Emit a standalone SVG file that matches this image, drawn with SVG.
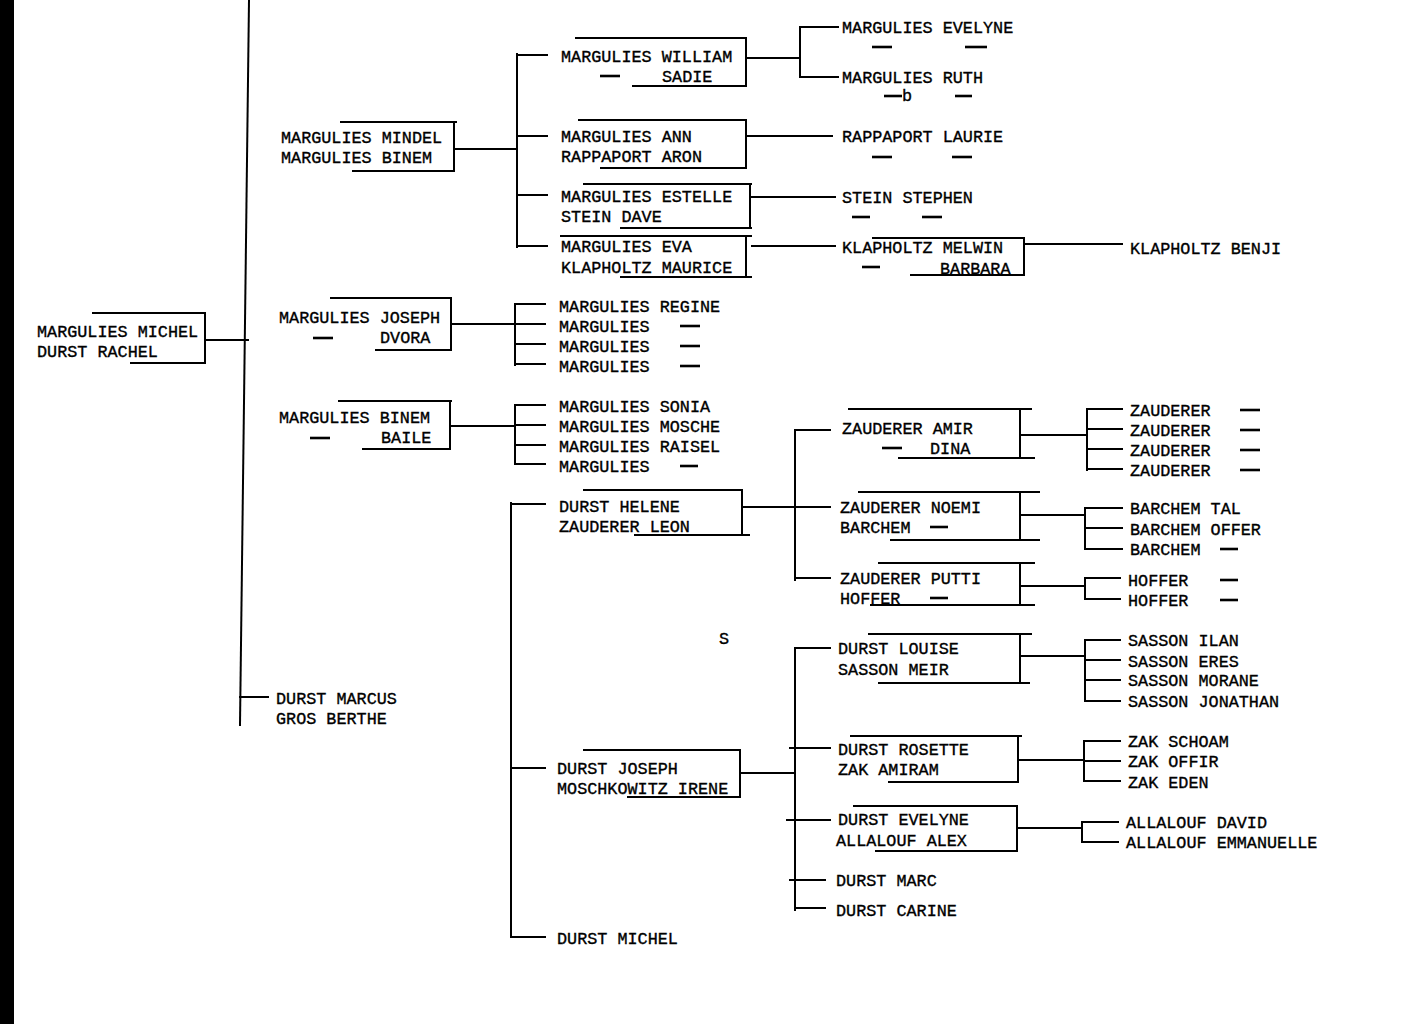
<svg xmlns="http://www.w3.org/2000/svg" width="1404" height="1024" viewBox="0 0 1404 1024">
<style>
text{font-family:"Liberation Mono","Courier New",monospace;font-size:16.8px;fill:#000;stroke:#000;stroke-width:0.35px}
.ln{fill:none;stroke:#000;stroke-width:2;stroke-linecap:square}
.box{fill:none;stroke:#000;stroke-width:2}
.dash{stroke:#000;stroke-width:2.6}
</style>
<rect x="0" y="0" width="14" height="1024" fill="#000"/>
<g id="connectors" class="ln">
<path d="M249,0 L240,725"/>
<path d="M205,340 H248"/>
<path d="M240,697 H268"/>
<path d="M454,149 H517 M517,54 V247 M517,55 H547 M517,136 H547 M517,195 H547 M517,246 H547"/>
<path d="M746,58 H800 M800,27 V77 M800,27 H838 M800,77 H838"/>
<path d="M746,136 H832"/>
<path d="M752,197 H835"/>
<path d="M752,246 H835"/>
<path d="M1026,244 H1122"/>
<path d="M451,324 H515 M515,304 V365 M515,304 H545 M515,324 H545 M515,344 H545 M515,364 H545"/>
<path d="M450,426 H515 M515,405 V464 M515,405 H545 M515,425 H545 M515,445 H545 M515,464 H545"/>
<path d="M511,503 V937 M511,504 H545 M511,768 H545 M511,937 H545"/>
<path d="M742,507 H795 M795,430 V580 M795,430 H830 M795,507 H830 M795,578 H830"/>
<path d="M1020,435 H1087 M1087,409 V470 M1087,409 H1122 M1087,429 H1122 M1087,449 H1122 M1087,469 H1122"/>
<path d="M1020,515 H1085 M1085,508 V549 M1085,508 H1122 M1085,528 H1122 M1085,549 H1122"/>
<path d="M1020,586 H1085 M1085,578 V599 M1085,578 H1120 M1085,599 H1120"/>
<path d="M740,773 H795 M795,648 V910 M795,648 H830 M790,748 H830 M787,820 H830 M790,880 H825 M795,908 H825"/>
<path d="M1020,656 H1085 M1085,640 V701 M1085,640 H1120 M1085,660 H1120 M1085,680 H1120 M1085,701 H1120"/>
<path d="M1018,760 H1084 M1084,741 V781 M1084,741 H1120 M1084,761 H1120 M1084,781 H1120"/>
<path d="M1017,828 H1082 M1082,822 V842 M1082,822 H1118 M1082,842 H1118"/>
</g>
<g id="n-michel-rachel"><path class="box" d="M92,313 H205 V363 H130"/><text x="37" y="337">MARGULIES MICHEL</text><text x="37" y="357">DURST RACHEL</text></g>
<g id="n-mindel"><path class="box" d="M340,122 H457 M454,122 V171 H352"/><text x="281" y="143">MARGULIES MINDEL</text><text x="281" y="163">MARGULIES BINEM</text></g>
<g id="n-william"><path class="box" d="M575,38 H746 V86 H632"/><text x="561" y="62">MARGULIES WILLIAM</text><line class="dash" x1="600" y1="76" x2="620" y2="76"/><text x="662" y="82">SADIE</text></g>
<g id="n-evelyne"><text x="842" y="33">MARGULIES EVELYNE</text><line class="dash" x1="872" y1="47" x2="892" y2="47"/><line class="dash" x1="965" y1="47" x2="987" y2="47"/></g>
<g id="n-ruth"><text x="842" y="83">MARGULIES RUTH</text><line class="dash" x1="884" y1="96" x2="902" y2="96"/><text x="902" y="101">b</text><line class="dash" x1="955" y1="96" x2="972" y2="96"/></g>
<g id="n-ann"><path class="box" d="M578,120 H746 V168 H600"/><text x="561" y="142">MARGULIES ANN</text><text x="561" y="162">RAPPAPORT ARON</text></g>
<g id="n-laurie"><text x="842" y="142">RAPPAPORT LAURIE</text><line class="dash" x1="872" y1="157" x2="892" y2="157"/><line class="dash" x1="952" y1="157" x2="972" y2="157"/></g>
<g id="n-estelle"><path class="box" d="M583,184 H752 M750,184 V228 M620,228 H752"/><text x="561" y="202">MARGULIES ESTELLE</text><text x="561" y="222">STEIN DAVE</text></g>
<g id="n-stephen"><text x="842" y="203">STEIN STEPHEN</text><line class="dash" x1="852" y1="217" x2="870" y2="217"/><line class="dash" x1="922" y1="217" x2="942" y2="217"/></g>
<g id="n-eva"><path class="box" d="M560,236 H752 M746,236 V277 M620,277 H752"/><text x="561" y="252">MARGULIES EVA</text><text x="561" y="273">KLAPHOLTZ MAURICE</text></g>
<g id="n-melwin"><path class="box" d="M872,238 H1024 V275 H910"/><text x="842" y="253">KLAPHOLTZ MELWIN</text><line class="dash" x1="862" y1="267" x2="880" y2="267"/><text x="940" y="274">BARBARA</text></g>
<g id="n-benji"><text x="1130" y="254">KLAPHOLTZ BENJI</text></g>
<g id="n-joseph-m"><path class="box" d="M330,298 H452 M451,298 V350 H375"/><text x="279" y="323">MARGULIES JOSEPH</text><line class="dash" x1="313" y1="338" x2="333" y2="338"/><text x="380" y="343">DVORA</text></g>
<g id="n-regine"><text x="559" y="312">MARGULIES REGINE</text></g>
<g id="n-marg2"><text x="559" y="332">MARGULIES</text><line class="dash" x1="680" y1="326" x2="700" y2="326"/></g>
<g id="n-marg3"><text x="559" y="352">MARGULIES</text><line class="dash" x1="680" y1="346" x2="700" y2="346"/></g>
<g id="n-marg4"><text x="559" y="372">MARGULIES</text><line class="dash" x1="680" y1="366" x2="700" y2="366"/></g>
<g id="n-binem"><path class="box" d="M338,401 H452 M450,401 V449 H362"/><text x="279" y="423">MARGULIES BINEM</text><line class="dash" x1="310" y1="438" x2="330" y2="438"/><text x="381" y="443">BAILE</text></g>
<g id="n-sonia"><text x="559" y="412">MARGULIES SONIA</text></g>
<g id="n-mosche"><text x="559" y="432">MARGULIES MOSCHE</text></g>
<g id="n-raisel"><text x="559" y="452">MARGULIES RAISEL</text></g>
<g id="n-marg5"><text x="559" y="472">MARGULIES</text><line class="dash" x1="680" y1="466" x2="698" y2="466"/></g>
<g id="n-marcus"><text x="276" y="704">DURST MARCUS</text><text x="276" y="724">GROS BERTHE</text></g>
<g id="n-helene"><path class="box" d="M583,490 H742 V535 M634,535 H750"/><text x="559" y="512">DURST HELENE</text><text x="559" y="532">ZAUDERER LEON</text></g>
<g id="n-amir"><path class="box" d="M848,409 H1032 M1020,409 V458 M898,458 H1035"/><text x="842" y="434">ZAUDERER AMIR</text><line class="dash" x1="882" y1="448" x2="902" y2="448"/><text x="930" y="454">DINA</text></g>
<g id="n-z1"><text x="1130" y="416">ZAUDERER</text><line class="dash" x1="1240" y1="410" x2="1260" y2="410"/></g>
<g id="n-z2"><text x="1130" y="436">ZAUDERER</text><line class="dash" x1="1240" y1="430" x2="1260" y2="430"/></g>
<g id="n-z3"><text x="1130" y="456">ZAUDERER</text><line class="dash" x1="1240" y1="450" x2="1260" y2="450"/></g>
<g id="n-z4"><text x="1130" y="476">ZAUDERER</text><line class="dash" x1="1240" y1="470" x2="1260" y2="470"/></g>
<g id="n-noemi"><path class="box" d="M858,492 H1040 M1020,492 V540 M890,540 H1040"/><text x="840" y="513">ZAUDERER NOEMI</text><text x="840" y="533">BARCHEM</text><line class="dash" x1="930" y1="527" x2="948" y2="527"/></g>
<g id="n-tal"><text x="1130" y="514">BARCHEM TAL</text></g>
<g id="n-offer"><text x="1130" y="535">BARCHEM OFFER</text></g>
<g id="n-barchem3"><text x="1130" y="555">BARCHEM</text><line class="dash" x1="1220" y1="549" x2="1238" y2="549"/></g>
<g id="n-putti"><path class="box" d="M878,563 H1035 M1020,563 V605 M870,605 H1035"/><text x="840" y="584">ZAUDERER PUTTI</text><text x="840" y="604">HOFFER</text><line class="dash" x1="930" y1="598" x2="948" y2="598"/></g>
<g id="n-h1"><text x="1128" y="586">HOFFER</text><line class="dash" x1="1220" y1="580" x2="1238" y2="580"/></g>
<g id="n-h2"><text x="1128" y="606">HOFFER</text><line class="dash" x1="1220" y1="600" x2="1238" y2="600"/></g>
<text x="719" y="644">S</text>
<g id="n-joseph-d"><path class="box" d="M583,750 H740 V797 H627"/><text x="557" y="774">DURST JOSEPH</text><text x="557" y="794">MOSCHKOWITZ IRENE</text></g>
<g id="n-louise"><path class="box" d="M868,634 H1032 M1020,634 V683 M878,683 H1030"/><text x="838" y="654">DURST LOUISE</text><text x="838" y="675">SASSON MEIR</text></g>
<g id="n-ilan"><text x="1128" y="646">SASSON ILAN</text></g>
<g id="n-eres"><text x="1128" y="667">SASSON ERES</text></g>
<g id="n-morane"><text x="1128" y="686">SASSON MORANE</text></g>
<g id="n-jonathan"><text x="1128" y="707">SASSON JONATHAN</text></g>
<g id="n-rosette"><path class="box" d="M850,736 H1022 M1018,736 V782 H888"/><text x="838" y="755">DURST ROSETTE</text><text x="838" y="775">ZAK AMIRAM</text></g>
<g id="n-schoam"><text x="1128" y="747">ZAK SCHOAM</text></g>
<g id="n-offir"><text x="1128" y="767">ZAK OFFIR</text></g>
<g id="n-eden"><text x="1128" y="788">ZAK EDEN</text></g>
<g id="n-evelyne-d"><path class="box" d="M853,806 H1018 M1017,806 V852 M875,851 H1018"/><text x="838" y="825">DURST EVELYNE</text><text x="836" y="846">ALLALOUF ALEX</text></g>
<g id="n-david"><text x="1126" y="828">ALLALOUF DAVID</text></g>
<g id="n-emmanuelle"><text x="1126" y="848">ALLALOUF EMMANUELLE</text></g>
<g id="n-marc"><text x="836" y="886">DURST MARC</text></g>
<g id="n-carine"><text x="836" y="916">DURST CARINE</text></g>
<g id="n-michel-d"><text x="557" y="944">DURST MICHEL</text></g>
</svg>
